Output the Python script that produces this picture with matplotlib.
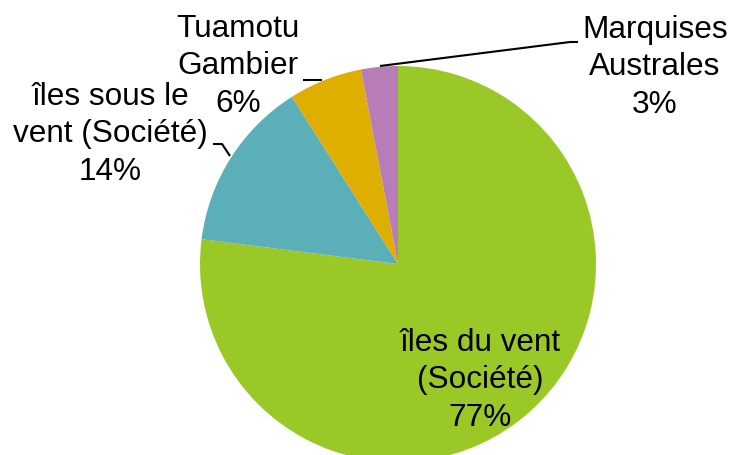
import matplotlib
matplotlib.use("Agg")
import matplotlib.pyplot as plt

plt.rcParams['font.family'] = ['Liberation Sans', 'DejaVu Sans']

labels = ["îles du vent\n(Société)", "îles sous le\nvent (Société)", "Tuamotu\nGambier", "Marquises\nAustrales"]
values = [77, 14, 6, 3]
colors = ["#9AC826", "#5AAFB9", "#DEAE00", "#B87CB6"]

W, H = 732, 456
fig = plt.figure(figsize=(W / 100, H / 100), dpi=100)
ax = fig.add_axes([0, 0, 1, 1])

cx, cy, r = 398, H - 265, 198
ax.pie(values, colors=colors, startangle=90, counterclock=False,
       center=(cx, cy), radius=r, frame=True,
       wedgeprops=dict(linewidth=0))
ax.set_xlim(0, W)
ax.set_ylim(0, H)
ax.set_aspect("equal")
ax.axis("off")

total = sum(values)
pct = [f"{round(v / total * 100)}%" for v in values]

# label anchor positions (x center, last-line baseline in pixels from top)
pos = [(480, 426), (110, 180), (238, 112), (655, 113)]
fs = 22.7
for lab, p, (x, yb) in zip(labels, pct, pos):
    ax.text(x, H - yb, lab + "\n" + p, ha="center", va="baseline",
            multialignment="center", fontsize=fs, linespacing=1.33, color="black")

# leader lines
lk = dict(color="black", lw=1.5, solid_capstyle="butt")
ax.plot([303, 322], [H - 81, H - 81], **lk)
ax.plot([380, 570, 578], [H - 67, H - 43, H - 43], **lk)
ax.plot([213, 222, 230], [H - 145, H - 145, H - 157], **lk)

fig.savefig("out.png", dpi=100)
